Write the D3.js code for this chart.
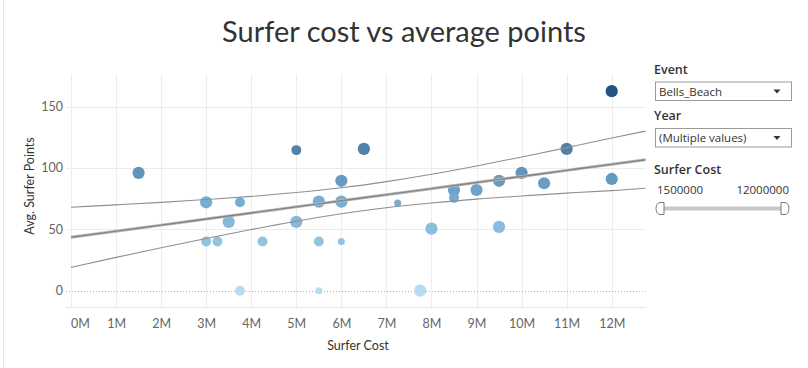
<!DOCTYPE html>
<html>
<head>
<meta charset="utf-8">
<script src="https://cdn.jsdelivr.net/npm/d3@7"></script>
<style>
  html, body { margin: 0; padding: 0; background: #fff; }
  svg { display: block; font-family: "Lato", "Open Sans", sans-serif; }
</style>
</head>
<body>
<svg id="chart" width="808" height="368"></svg>
<script>
// ---- Data ----
const surferCost = [1500000, 3000000, 3750000, 3500000, 3000000, 3250000, 4250000, 3750000,
  5000000, 5000000, 5500000, 5500000, 5500000, 6000000, 6000000, 6000000, 6500000,
  7250000, 8000000, 7750000, 8500000, 8500000, 9000000, 9500000, 9500000,
  10000000, 10500000, 11000000, 12000000, 12000000];
const avgPoints = [96, 72, 72, 56, 40, 40, 40, 0,
  114.5, 56, 72.5, 40, 0, 89.5, 72.5, 40, 115.5,
  71.5, 50.5, 0, 82, 75.6, 82, 89.5, 52,
  96, 87.5, 115.5, 162.5, 91];
const markSize = [3, 3, 2, 3, 2, 2, 2, 2,
  2, 3, 3, 2, 1, 3, 3, 1, 3,
  1, 3, 3, 3, 2, 3, 3, 3,
  3, 3, 3, 3, 3];

// trend line and its confidence band, read at each 1M step
const trendCost  = [0, 1000000, 2000000, 3000000, 4000000, 5000000, 6000000, 7000000, 8000000, 9000000, 10000000, 11000000, 12000000, 12750000];
const trendMid   = [43.5, 48.5, 53.4, 58.4, 63.3, 68.3, 73.2, 78.2, 83.1, 88.1, 93.0, 98.0, 102.9, 106.6];
const trendUpper = [68.0, 69.9, 71.9, 74.3, 76.8, 80.0, 83.8, 88.8, 94.8, 101.6, 108.9, 116.5, 124.3, 130.0];
const trendLower = [19.0, 27.1, 34.9, 42.5, 49.8, 56.6, 62.6, 67.6, 71.4, 74.6, 77.1, 79.5, 81.5, 83.4];

const xTicks = [0, 1e6, 2e6, 3e6, 4e6, 5e6, 6e6, 7e6, 8e6, 9e6, 10e6, 11e6, 12e6];
const yTicks = [0, 50, 100, 150];

const titleText = "Surfer cost vs average points";
const xTitle = "Surfer Cost";
const yTitle = "Avg. Surfer Points";
const eventValue = "Bells_Beach";
const yearValue = "(Multiple values)";
const costRange = ["1500000", "12000000"];

// ---- Layout ----
const svg = d3.select("#chart");
const plot = { left: 66, right: 645.5, top: 74, bottom: 307.5 };

const x = d3.scaleLinear().domain([-111000, 12750000]).range([plot.left, plot.right]);
const y = d3.scaleLinear().domain([-13.7, 176.5]).range([plot.bottom, plot.top]);
const color = d3.scaleLinear().domain([0, 70, 164]).range(["#b7dcef", "#78b0d4", "#24527f"]).interpolate(d3.interpolateLab);
const rScale = d3.scaleSqrt().domain([0, 3]).range([0, 6.1]);

// left border
svg.append("line").attr("x1", 3.5).attr("x2", 3.5).attr("y1", 0).attr("y2", 368)
  .attr("stroke", "#e6e6e6").attr("stroke-width", 1);

// title
svg.append("text").attr("x", 404).attr("y", 42).attr("text-anchor", "middle")
  .attr("font-size", 29).attr("fill", "#333").text(titleText);

// gridlines
const grid = svg.append("g");
grid.selectAll(".vg").data(xTicks).join("line")
  .attr("x1", d => Math.round(x(d)) + 0.5).attr("x2", d => Math.round(x(d)) + 0.5)
  .attr("y1", plot.top).attr("y2", plot.bottom)
  .attr("stroke", "#ececec").attr("stroke-width", 1);
grid.selectAll(".hg").data(yTicks.filter(d => d !== 0)).join("line")
  .attr("x1", plot.left).attr("x2", plot.right)
  .attr("y1", d => Math.round(y(d)) + 0.5).attr("y2", d => Math.round(y(d)) + 0.5)
  .attr("stroke", "#ececec").attr("stroke-width", 1);
// bottom border
grid.append("line").attr("x1", plot.left).attr("x2", plot.right)
  .attr("y1", plot.bottom).attr("y2", plot.bottom)
  .attr("stroke", "#e6e6e6").attr("stroke-width", 1);
// zero line (dotted)
grid.append("line").attr("x1", plot.left).attr("x2", plot.right)
  .attr("y1", Math.round(y(0)) + 0.5).attr("y2", Math.round(y(0)) + 0.5)
  .attr("stroke", "#b0b0b0").attr("stroke-width", 1).attr("stroke-dasharray", "1,2");

// axes
const xAxis = svg.append("g").attr("transform", `translate(0,${plot.bottom + 4})`)
  .call(d3.axisBottom(x).tickValues(xTicks).tickSize(0).tickPadding(8).tickFormat(d => (d / 1e6) + "M"));
xAxis.select(".domain").remove();
xAxis.selectAll("text").attr("font-size", 12.5).attr("fill", "#666").style("font-family", "Lato, sans-serif");
xAxis.selectAll(".tick").filter(d => d === 0).select("text").attr("text-anchor", "start").attr("dx", -0.5);

const yAxis = svg.append("g").attr("transform", `translate(${plot.left - 1},0)`)
  .call(d3.axisLeft(y).tickValues(yTicks).tickSize(0).tickPadding(2));
yAxis.select(".domain").remove();
yAxis.selectAll("text").attr("font-size", 12.5).attr("fill", "#666").style("font-family", "Lato, sans-serif");

// axis titles
svg.append("text").attr("x", 358).attr("y", 350).attr("text-anchor", "middle")
  .attr("font-size", 12.5).attr("fill", "#333").text(xTitle);
svg.append("text").attr("transform", "translate(34,186) rotate(-90)").attr("text-anchor", "middle")
  .attr("font-size", 12.5).attr("fill", "#333").text(yTitle);

// points
const pts = surferCost.map((c, i) => ({ c, v: avgPoints[i], s: markSize[i] }));
svg.append("g").selectAll("circle").data(pts).join("circle")
  .attr("cx", d => x(d.c)).attr("cy", d => y(d.v)).attr("r", d => rScale(d.s))
  .attr("fill", d => color(d.v));

// trend lines
const trend = trendCost.map((c, i) => ({ c, m: trendMid[i], u: trendUpper[i], l: trendLower[i] }));
const line = key => d3.line().x(d => x(d.c)).y(d => y(d[key])).curve(d3.curveNatural);
const tg = svg.append("g").attr("fill", "none");
tg.append("path").datum(trend).attr("d", line("u")).attr("stroke", "#8f8f8f").attr("stroke-width", 1.1);
tg.append("path").datum(trend).attr("d", line("l")).attr("stroke", "#8f8f8f").attr("stroke-width", 1.1);
tg.append("path").datum(trend).attr("d", line("m")).attr("stroke", "#bdbdbd").attr("stroke-width", 3);
tg.append("path").datum(trend).attr("d", line("m")).attr("stroke", "#858585").attr("stroke-width", 1.4);

// filter panel
const panel = svg.append("g").style("font-family", "'Open Sans', sans-serif");
function dropdown(label, value, top) {
  panel.append("text").attr("x", 654).attr("y", top).attr("font-size", 12.5).attr("font-weight", 600)
    .attr("fill", "#333").text(label);
  panel.append("rect").attr("x", 655.5).attr("y", top + 8.5).attr("width", 136).attr("height", 18.5)
    .attr("fill", "#fff").attr("stroke", "#9a9a9a").attr("stroke-width", 1);
  panel.append("text").attr("x", 659).attr("y", top + 22).attr("font-size", 11.5).attr("fill", "#333").text(value);
  const tx = 777, ty = top + 16;
  panel.append("path").attr("d", `M${tx - 3.5},${ty} L${tx + 3.5},${ty} L${tx},${ty + 4} Z`).attr("fill", "#333");
}
dropdown("Event", eventValue, 73.5);
dropdown("Year", yearValue, 120);

panel.append("text").attr("x", 654).attr("y", 174).attr("font-size", 12.5).attr("font-weight", 600)
  .attr("fill", "#333").text("Surfer Cost");
panel.append("text").attr("x", 657).attr("y", 194).attr("font-size", 11.5).attr("fill", "#333").text(costRange[0]);
panel.append("text").attr("x", 789).attr("y", 194).attr("text-anchor", "end").attr("font-size", 11.5).attr("fill", "#333").text(costRange[1]);
// slider
panel.append("rect").attr("x", 662).attr("y", 206.5).attr("width", 121).attr("height", 4).attr("fill", "#c8c8c8");
panel.append("path").attr("d", "M664,202.5 L660,202.5 A4,6 0 0 0 660,214.5 L664,214.5 Z")
  .attr("fill", "#fff").attr("stroke", "#777").attr("stroke-width", 1);
panel.append("path").attr("d", "M781,202.5 L785,202.5 A4,6 0 0 1 785,214.5 L781,214.5 Z")
  .attr("fill", "#fff").attr("stroke", "#777").attr("stroke-width", 1);
</script>
</body>
</html>
